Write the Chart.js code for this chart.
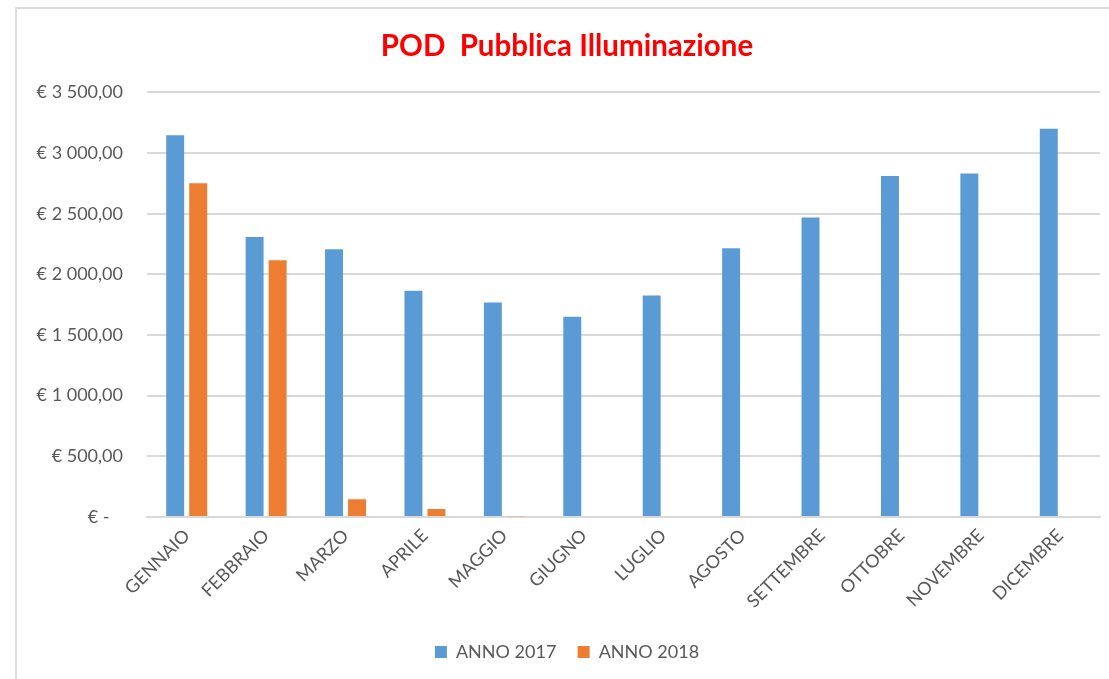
<!DOCTYPE html>
<html lang="it">
<head>
<meta charset="utf-8">
<title>POD Pubblica Illuminazione</title>
<script src="https://cdn.jsdelivr.net/npm/chart.js@4.4.1/dist/chart.umd.min.js"></script>
<style>
  html, body { margin: 0; padding: 0; background: #fff; overflow: hidden; }
  #wrap { position: absolute; left: 0; top: 0; width: 1109px; height: 679px; }
  #frame {
    position: absolute; left: 15px; top: 7px; width: 1200px; height: 800px;
    border-left: 2px solid #dcdcdc; border-top: 2px solid #dcdcdc; pointer-events: none;
  }
</style>
</head>
<body>
<div id="wrap">
  <canvas id="podChart" width="1109" height="679"></canvas>
  <div id="frame"></div>
</div>
<script>
  // dati
  const mesi = ["GENNAIO", "FEBBRAIO", "MARZO", "APRILE", "MAGGIO", "GIUGNO",
                "LUGLIO", "AGOSTO", "SETTEMBRE", "OTTOBRE", "NOVEMBRE", "DICEMBRE"];
  const anno2017 = [3146, 2308, 2207, 1865, 1769, 1650, 1826, 2215, 2469, 2810, 2832, 3201];
  const anno2018 = [2752, 2116, 146, 66, 6, null, null, null, null, null, null, null];
  const yTicks = [0, 500, 1000, 1500, 2000, 2500, 3000, 3500];

  const FONT = "Lato, 'Open Sans', sans-serif";
  const GREY = "#595959";

  function euro(v) {
    if (v === 0) return "€ -\u2002 ";
    const s = String(Math.round(v)).replace(/\B(?=(\d{3})+(?!\d))/g, " ");
    return "€ " + s + ",00";
  }

  const baseLabels = Chart.defaults.plugins.legend.labels.generateLabels;

  new Chart(document.getElementById("podChart"), {
    type: "bar",
    data: {
      labels: mesi,
      datasets: [
        { label: "ANNO 2017", data: anno2017, backgroundColor: "#5B9BD5",
          borderWidth: 0, categoryPercentage: 0.58, barPercentage: 0.78 },
        { label: "ANNO 2018", data: anno2018, backgroundColor: "#ED7D31",
          borderWidth: 0, categoryPercentage: 0.58, barPercentage: 0.78 }
      ]
    },
    options: {
      responsive: false,
      animation: false,
      // il riquadro originale continua oltre il bordo destro:
      // padding sinistro più largo per centrare titolo e legenda più a destra
      layout: { padding: { left: 34, right: 9, top: 8, bottom: 8 } },
      plugins: {
        title: {
          display: true,
          text: "POD  Pubblica Illuminazione",
          color: "#FF0000",
          font: { family: FONT, size: 29.5, weight: "bold" },
          padding: { top: 21, bottom: 28 }
        },
        legend: {
          position: "bottom",
          labels: {
            color: GREY, boxWidth: 12, boxHeight: 12, padding: 10,
            font: { family: FONT, size: 18 },
            // un po' di spazio in più fra le due voci
            generateLabels(chart) {
              const items = baseLabels(chart);
              items.forEach((it, i) => { if (i < items.length - 1) it.text += "\u2002\u2009"; });
              return items;
            }
          }
        },
        tooltip: { enabled: false }
      },
      scales: {
        x: {
          grid: { display: false, drawTicks: false },
          border: { color: "#d9d9d9", width: 2 },
          ticks: {
            color: GREY, font: { family: FONT, size: 18 },
            maxRotation: 45, minRotation: 45, padding: 8, autoSkip: false
          },
          afterFit(scale) { scale.height = 116; }
        },
        y: {
          min: 0, max: 3500,
          afterBuildTicks(scale) { scale.ticks = yTicks.map(v => ({ value: v })); },
          grid: { color: "#d9d9d9", lineWidth: 2, drawTicks: false },
          border: { display: false },
          ticks: {
            color: GREY, font: { family: FONT, size: 18 }, padding: 24,
            callback: v => euro(v)
          },
          afterFit(scale) { scale.width = 113; }
        }
      }
    }
  });
</script>
</body>
</html>
